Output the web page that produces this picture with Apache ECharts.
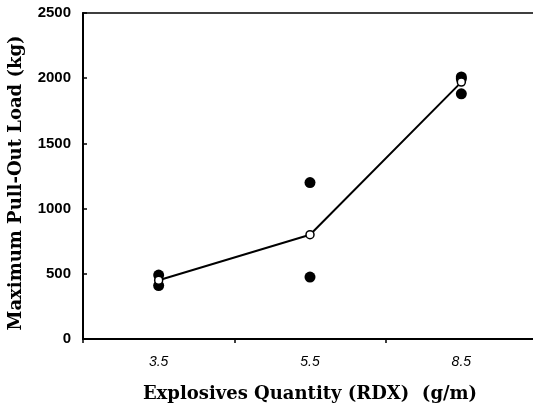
<!DOCTYPE html>
<html>
<head>
<meta charset="utf-8">
<script src="https://cdn.jsdelivr.net/npm/echarts@6/dist/echarts.min.js"></script>
<style>html,body{margin:0;padding:0;background:#fff}#c{width:533px;height:405px}</style>
</head>
<body>
<div id="c"></div>
<script>
var categories = ['3.5', '5.5', '8.5'];
var individual35 = [490, 410];
var individual55 = [1200, 475];
var individual85 = [2010, 1995, 1880];
var meanValues = [450, 800, 1970];
var yTicks = [0, 500, 1000, 1500, 2000, 2500];

var groups = [individual35, individual55, individual85];
var scatterData = [];
groups.forEach(function (g, i) {
  g.forEach(function (v) { scatterData.push([categories[i], v]); });
});

var chart = echarts.init(document.getElementById('c'), null, { renderer: 'canvas' });
chart.setOption({
  backgroundColor: '#fff',
  animation: false,
  grid: { left: 83, right: -4, top: 13, bottom: 66, outerBoundsMode: 'none', containLabel: false, show: true, borderColor: '#000', borderWidth: 1.5, backgroundColor: 'transparent' },
  xAxis: {
    type: 'category',
    data: categories,
    boundaryGap: true,
    name: 'Explosives Quantity (RDX)  (g/m)',
    nameLocation: 'middle',
    nameGap: 46,
    nameTextStyle: { fontFamily: 'DejaVu Serif', fontWeight: 'bold', fontSize: 18, color: '#000' },
    axisLine: { show: true, lineStyle: { color: '#000', width: 2 } },
    axisTick: { show: true, inside: false, length: 4, lineStyle: { color: '#000', width: 1.5 } },
    axisLabel: { color: '#000', fontFamily: 'Liberation Sans', fontStyle: 'italic', fontSize: 14, margin: 16 },
    splitLine: { show: false }
  },
  yAxis: {
    type: 'value',
    min: yTicks[0],
    max: yTicks[yTicks.length - 1],
    interval: 500,
    name: 'Maximum Pull-Out Load (kg)',
    nameLocation: 'middle',
    nameGap: 58,
    nameTextStyle: { fontFamily: 'DejaVu Serif', fontWeight: 'bold', fontSize: 18, color: '#000', padding: [0, 14, 0, 0] },
    axisLine: { show: true, lineStyle: { color: '#000', width: 2 } },
    axisTick: { show: true, inside: true, length: 4, lineStyle: { color: '#000', width: 1.5 } },
    axisLabel: { color: '#000', fontFamily: 'Liberation Sans', fontWeight: 'bold', fontSize: 15, margin: 12, formatter: function (v) { return String(v); } },
    splitLine: { show: false }
  },
  series: [
    {
      type: 'scatter',
      data: scatterData,
      symbol: 'circle',
      symbolSize: 11,
      itemStyle: { color: '#000', opacity: 1 },
      z: 2
    },
    {
      type: 'line',
      data: meanValues,
      symbol: 'circle',
      symbolSize: 8,
      showSymbol: true,
      lineStyle: { color: '#000', width: 2 },
      itemStyle: { color: '#fff', borderColor: '#000', borderWidth: 1.5, opacity: 1 },
      z: 3
    }
  ]
});
</script>
</body>
</html>
